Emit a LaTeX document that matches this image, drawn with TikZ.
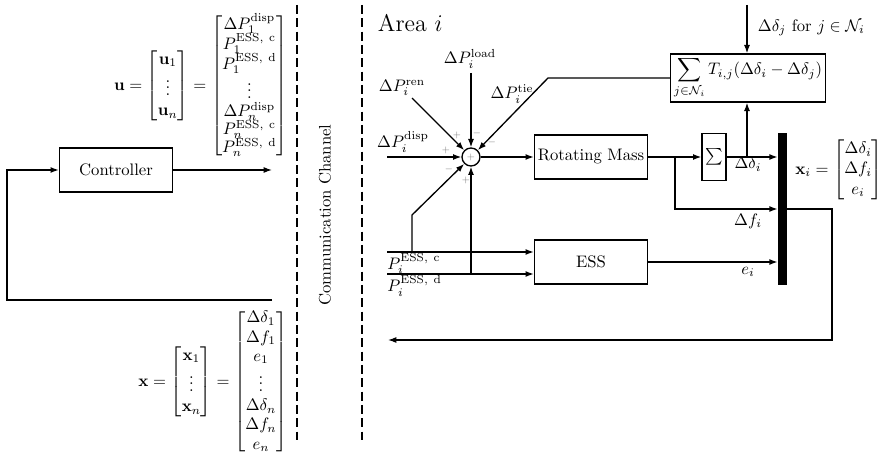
\documentclass[tikz,border=0pt]{standalone}
\usepackage{amsmath,amssymb}
\usetikzlibrary{arrows.meta,calc}
\begin{document}
\begin{tikzpicture}[x=0.6pt,y=-0.6pt,
  blk/.style={draw,line width=0.8pt,minimum width=67.8pt,minimum height=26.4pt,inner sep=0pt},
  arr/.style={-{Latex[length=5pt,width=3.6pt]},line width=0.8pt},
  ln/.style={line width=0.8pt},
  sgn/.style={font=\tiny,text=gray,inner sep=0pt},
  chan/.style={dash pattern=on 5.5pt off 2.5pt,line width=1.6pt}]
\useasboundingbox (0,0) rectangle (882,456);

% communication channel
\coordinate (c1t) at (297,5); \coordinate (c1b) at (297,440);
\coordinate (c2t) at (362,5); \coordinate (c2b) at (362,440);
\draw[chan] (c1t) -- (c1b);
\draw[chan] (c2t) -- (c2b);
\node[rotate=90] (cc) at (325,215) {Communication Channel};

% left side
\node[blk] (ctrl) at (116,170) {Controller};
\coordinate (uout) at (272,170);
\draw[arr] (ctrl) -- (uout);
\coordinate (fbR) at (272,300); \coordinate (fbC) at (7,300); \coordinate (fbU) at (7,170);
\draw[arr] (fbR) -- (fbC) -- (fbU) -- (ctrl.west);

\node[anchor=east,inner sep=0pt] (ueq) at (288,86) {$\mathbf{u} = \begin{bmatrix}\mathbf{u}_1\\ \vdots\\ \mathbf{u}_n\end{bmatrix} = \begin{bmatrix}\Delta P_1^{\mathrm{disp}}\\[-1.2pt] P_1^{\mathrm{ESS,\ c}}\\[-1.2pt] P_1^{\mathrm{ESS,\ d}}\\[-1.2pt] \vdots\\[-1.2pt] \Delta P_n^{\mathrm{disp}}\\[-1.2pt] P_n^{\mathrm{ESS,\ c}}\\[-1.2pt] P_n^{\mathrm{ESS,\ d}}\end{bmatrix}$};
\node[anchor=east,inner sep=0pt] (xeq) at (288,382) {$\mathbf{x} = \begin{bmatrix}\mathbf{x}_1\\ \vdots\\ \mathbf{x}_n\end{bmatrix} = \begin{bmatrix}\Delta\delta_1\\[-0.5pt] \Delta f_1\\[-0.5pt] e_1\\[-0.5pt] \vdots\\[-0.5pt] \Delta\delta_n\\[-0.5pt] \Delta f_n\\[-0.5pt] e_n\end{bmatrix}$};

% right side
\node[font=\Large,anchor=north west] (area) at (372,8) {Area $i$};
\node[circle,draw,minimum size=10.8pt,inner sep=0pt,line width=0.8pt] (S) at (471,157) {};
\node[sgn] (Splus) at (S) {$+$};
\node[blk] (RM) at (591,157) {Rotating Mass};
\node[blk] (ESS) at (591,262) {ESS};
\node[draw,minimum width=14.4pt,minimum height=28.2pt,inner sep=0pt,line width=0.8pt] (Sig) at (714,157) {$\sum$};
\node[fill=black,minimum width=5.4pt,minimum height=91.2pt,inner sep=0pt] (bar) at (782.5,209) {};
\node[draw,line width=0.8pt,minimum width=92.4pt,minimum height=25.8pt,inner sep=2pt] (T) at (748,78) {$\displaystyle\sum_{j\in\mathcal{N}_i} T_{i,j}(\Delta\delta_i-\Delta\delta_j)$};

% inputs to summing junction
\coordinate (dp) at (387,157);
\coordinate (rn) at (412,98);
\coordinate (ld) at (471,73);
\coordinate (t1) at (548,78);
\coordinate (ec) at (387,252);
\coordinate (ed) at (387,274);
\coordinate (bc) at (412,252);
\coordinate (bc2) at (412,215);
\coordinate (bd) at (471,274);
\draw[arr] (dp) -- (S.west);
\draw[arr] (rn) -- (S.135);
\draw[arr] (ld) -- (S.north);
\draw[arr] (T.west) -- (t1) -- (S.45);
\draw[arr] (ec) -- (ec -| ESS.west);
\draw[arr] (ed) -- (ed -| ESS.west);
\draw[arr] (bc) -- (bc2) -- (S.225);
\draw[arr] (bd) -- (S.south);

\node (Ldisp) at (403,142) {$\Delta P_i^{\mathrm{disp}}$};
\node (Lren) at (402,88) {$\Delta P_i^{\mathrm{ren}}$};
\node (Lload) at (470,59) {$\Delta P_i^{\mathrm{load}}$};
\node (Ltie) at (512,94) {$\Delta P_i^{\mathrm{tie}}$};
\node[anchor=north west,inner sep=0pt] (Lc) at (387,253) {$P_i^{\mathrm{ESS,\ c}}$};
\node[anchor=north west,inner sep=0pt] (Ld) at (387,275) {$P_i^{\mathrm{ESS,\ d}}$};

\node[sgn] (s1) at (457,135) {$+$};
\node[sgn] (s2) at (477,133) {$-$};
\node[sgn] (s3) at (492,142) {$-$};
\node[sgn] (s4) at (446,150) {$+$};
\node[sgn] (s5) at (449,169) {$-$};
\node[sgn] (s6) at (466,180) {$+$};

% forward path
\coordinate (fb) at (675,157);
\coordinate (ddi) at (747,157);
\coordinate (dj) at (747,5);
\coordinate (o1) at (832,209);
\coordinate (o2) at (832,340);
\coordinate (o3) at (388,340);
\draw[arr] (S) -- (RM);
\draw[arr] (RM) -- (Sig);
\draw[arr] (Sig.east) -- (Sig.east -| bar.west);
\draw[arr] (ddi) -- (ddi |- T.south);
\draw[arr] (fb) |- (bar.west);
\draw[arr] (ESS) -- (ESS -| bar.west);
\draw[arr] (bar.east) -- (o1) -- (o2) -- (o3);
\draw[arr] (dj) -- (dj |- T.north);

\node (Ldd) at (748,164) {$\Delta\delta_i$};
\node (Ldf) at (748,221) {$\Delta f_i$};
\node (Le) at (748,272) {$e_i$};
\node[anchor=west] (Ldj) at (752,28) {$\Delta\delta_j$ for $j\in\mathcal{N}_i$};
\node[anchor=west,inner sep=0pt] (xi) at (795,170) {$\mathbf{x}_i = \begin{bmatrix}\Delta\delta_i\\ \Delta f_i\\ e_i\end{bmatrix}$};
\end{tikzpicture}
\end{document}
